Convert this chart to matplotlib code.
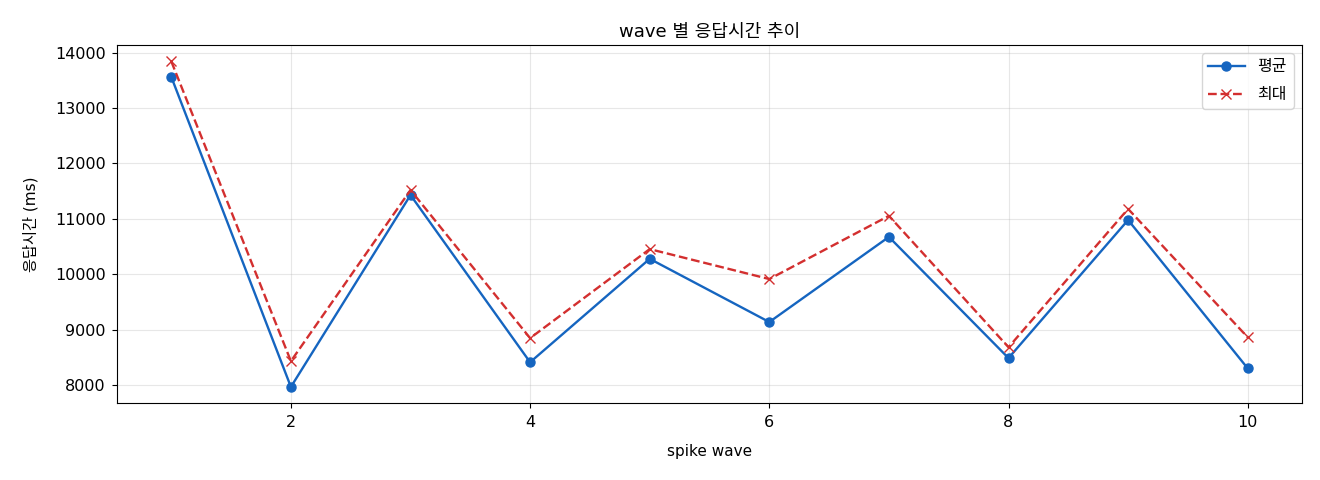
import matplotlib
matplotlib.use('Agg')
import matplotlib.pyplot as plt

plt.rcParams['font.family'] = ['DejaVu Sans', 'Noto Sans CJK KR']
plt.rcParams['axes.unicode_minus'] = False

waves = [1, 2, 3, 4, 5, 6, 7, 8, 9, 10]
avg_ms = [13560, 7970, 11430, 8415, 10280, 9140, 10675, 8490, 10980, 8305]
max_ms = [13840, 8435, 11520, 8850, 10455, 9915, 11055, 8685, 11180, 8865]

fig, ax = plt.subplots(figsize=(13.2, 4.8), dpi=100)
ax.plot(waves, avg_ms, color='#1565c0', marker='o', markersize=6.5,
        linewidth=1.7, label='평균')
ax.plot(waves, max_ms, color='#d32f2f', marker='x', markersize=6.5,
        linewidth=1.7, linestyle='--', label='최대')

ax.set_title('wave 별 응답시간 추이', fontsize=13, pad=6)
ax.set_xlabel('spike wave', fontsize=11, labelpad=10)
ax.set_ylabel('응답시간 (ms)', fontsize=11, labelpad=12)
ax.tick_params(labelsize=11.5, pad=5)
ax.grid(True, alpha=0.3)
ax.legend(loc='upper right', fontsize=11.5, handlelength=2.3, labelspacing=0.8)

fig.subplots_adjust(left=0.089, right=0.986, top=0.906, bottom=0.16)
fig.savefig('out.png', dpi=100)
